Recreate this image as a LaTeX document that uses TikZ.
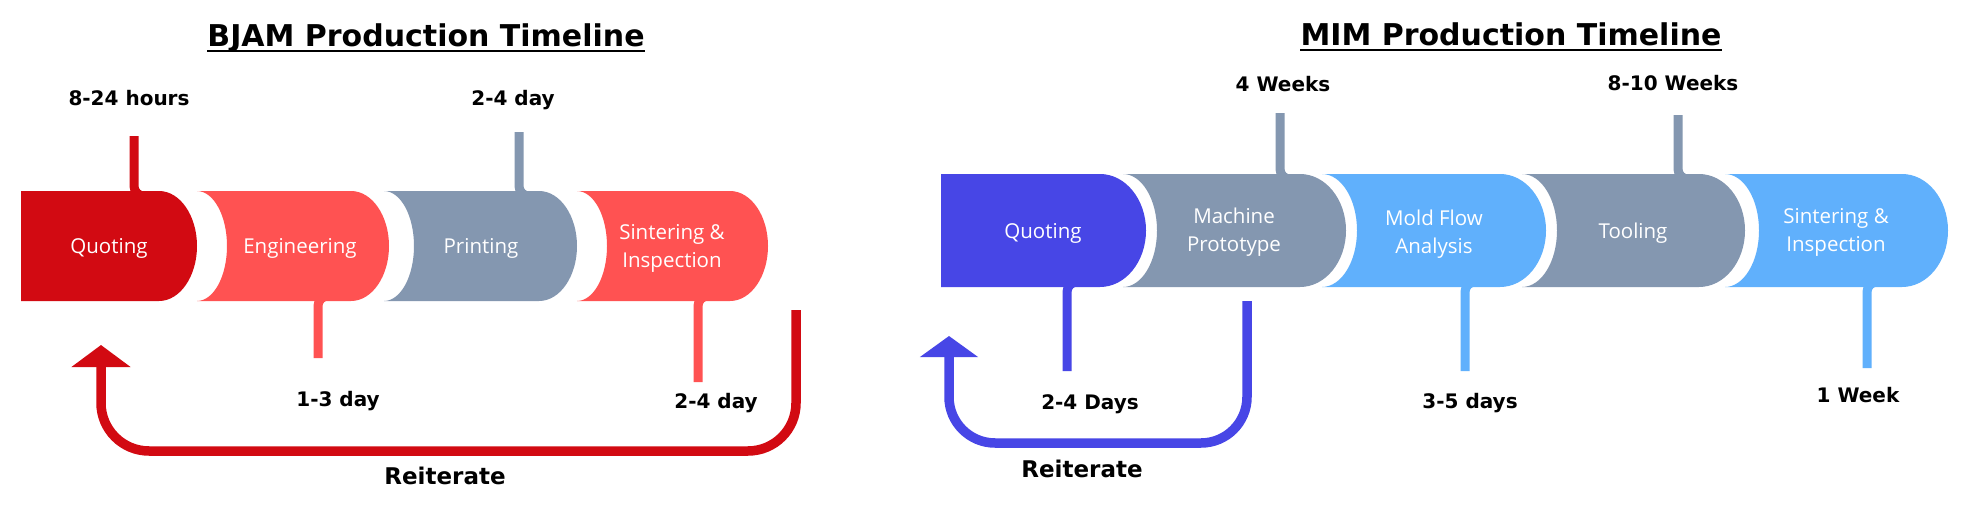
\documentclass[tikz,border=0pt]{standalone}
\usepackage{fontspec}
\setmainfont{Open Sans}
\newfontfamily\labfont{DejaVu Sans}
\usetikzlibrary{arrows.meta}
\definecolor{bjred}{RGB}{210,10,18}
\definecolor{coral}{RGB}{255,82,82}
\definecolor{slate}{RGB}{132,151,176}
\definecolor{mimblue}{RGB}{71,70,230}
\definecolor{skyblue}{RGB}{96,176,252}
% segment shape: color, L, rx concave, R, rx convex, top, bottom
\newcommand\segpath[7]{\fill[#1] (#2,-#6) -- ({#4-#5},-#6) arc[start angle=90,end angle=-90,x radius=#5,y radius={(#7-#6)/2}] -- (#2,-#7) arc[start angle=-90,end angle=90,x radius=#3,y radius={(#7-#6)/2}] -- cycle;}
\tikzset{
 segtext/.style={text=white, font=\fontsize{20.5}{28}\selectfont, align=center, inner sep=0pt, anchor=base},
 lbl/.style={font=\labfont\bfseries\fontsize{20}{24}\selectfont, inner sep=0pt, anchor=base},
 ttl/.style={font=\labfont\bfseries\fontsize{30}{36}\selectfont, inner sep=0pt, anchor=base},
 reit/.style={font=\labfont\bfseries\fontsize{23}{28}\selectfont, inner sep=0pt, anchor=base},
 tick/.style={line width=9pt, rounded corners=10pt},
 loopline/.style={line width=9.5pt},
}
\begin{document}
\begin{tikzpicture}[x=1pt,y=1pt]
\fill[white] (0,0) rectangle (1972,-511);
\useasboundingbox (0,0) rectangle (1972,-511);

% ================= BJAM =================
\node[ttl] (bt) at (426,-47) {BJAM Production Timeline};
\draw[line width=1.8pt] ([yshift=-4pt]bt.base west) -- ([yshift=-4pt]bt.base east);

% ticks
\coordinate (bq1) at (134,-136); \coordinate (bq2) at (148,-196);
\coordinate (bp1) at (519,-132); \coordinate (bp2) at (533,-196);
\coordinate (be1) at (332,-296); \coordinate (be2) at (318,-358);
\coordinate (bs1) at (712,-296); \coordinate (bs2) at (698,-382);
\draw[tick,bjred] (bq1) |- (bq2);
\draw[tick,slate] (bp1) |- (bp2);
\draw[tick,coral] (be1) -| (be2);
\draw[tick,coral] (bs1) -| (bs2);

% segments
\segpath{bjred}{21}{0.01}{197}{38}{191}{301}
\segpath{coral}{197}{30}{389}{38}{191}{301}
\segpath{slate}{384}{30}{577}{38}{191}{301}
\segpath{coral}{577}{30}{768}{38}{191}{301}
\node[segtext] (bquote) at (109,-253) {Quoting};
\node[segtext] (beng) at (300,-253) {Engineering};
\node[segtext] (bprint) at (481,-253) {Printing};
\node[segtext] (bsint) at (672,-267) {Sintering \&\\Inspection};

% labels
\node[lbl] (bl1) at (129,-105) {8-24 hours};
\node[lbl] (bl2) at (513,-105) {2-4 day};
\node[lbl] (bl3) at (338,-406) {1-3 day};
\node[lbl] (bl4) at (716,-408) {2-4 day};
\node[reit] (breit) at (445,-484) {Reiterate};

% loop
\coordinate (bla) at (796,-310);
\coordinate (blh) at (101,-451);
\coordinate (blb) at (101,-345);
\draw[loopline,bjred,rounded corners=48pt,-{Triangle[length=22pt 0 0,width=58pt 0 0]}] (bla) |- (blh) -- (blb);

% ================= MIM =================
\node[ttl] (mt) at (1511,-46) {MIM Production Timeline};
\draw[line width=1.8pt] ([yshift=-4pt]mt.base west) -- ([yshift=-4pt]mt.base east);

\coordinate (mm1) at (1280,-113); \coordinate (mm2) at (1294,-179);
\coordinate (mt1) at (1678,-115); \coordinate (mt2) at (1692,-179);
\coordinate (mq1) at (1081,-282); \coordinate (mq2) at (1067,-371);
\coordinate (mf1) at (1479,-282); \coordinate (mf2) at (1465,-371);
\coordinate (ms1) at (1881,-282); \coordinate (ms2) at (1867,-368);
\draw[tick,slate] (mm1) |- (mm2);
\draw[tick,slate] (mt1) |- (mt2);
\draw[tick,mimblue] (mq1) -| (mq2);
\draw[tick,skyblue] (mf1) -| (mf2);
\draw[tick,skyblue] (ms1) -| (ms2);

\segpath{mimblue}{941}{0.01}{1146}{46}{174}{287}
\segpath{slate}{1123}{34}{1346}{46}{174}{287}
\segpath{skyblue}{1322}{35}{1546}{46}{174}{287}
\segpath{slate}{1522}{35}{1745}{46}{174}{287}
\segpath{skyblue}{1725}{34}{1948}{46}{174}{287}
\node[segtext] (mquote) at (1043,-238) {Quoting};
\node[segtext] (mmach) at (1234,-251) {Machine\\Prototype};
\node[segtext] (mmold) at (1434,-253) {Mold Flow\\Analysis};
\node[segtext] (mtool) at (1633,-238) {Tooling};
\node[segtext] (msint) at (1836,-251) {Sintering \&\\Inspection};

\node[lbl] (ml1) at (1283,-91) {4 Weeks};
\node[lbl] (ml2) at (1673,-90) {8-10 Weeks};
\node[lbl] (ml3) at (1090,-409) {2-4 Days};
\node[lbl] (ml4) at (1470,-408) {3-5 days};
\node[lbl] (ml5) at (1858,-402) {1 Week};
\node[reit] (mreit) at (1082,-477) {Reiterate};

\coordinate (mla) at (1247,-301);
\coordinate (mlh) at (949,-443);
\coordinate (mlb) at (949,-336);
\draw[loopline,mimblue,rounded corners=46pt,-{Triangle[length=21pt 0 0,width=57pt 0 0]}] (mla) |- (mlh) -- (mlb);
\end{tikzpicture}
\end{document}
